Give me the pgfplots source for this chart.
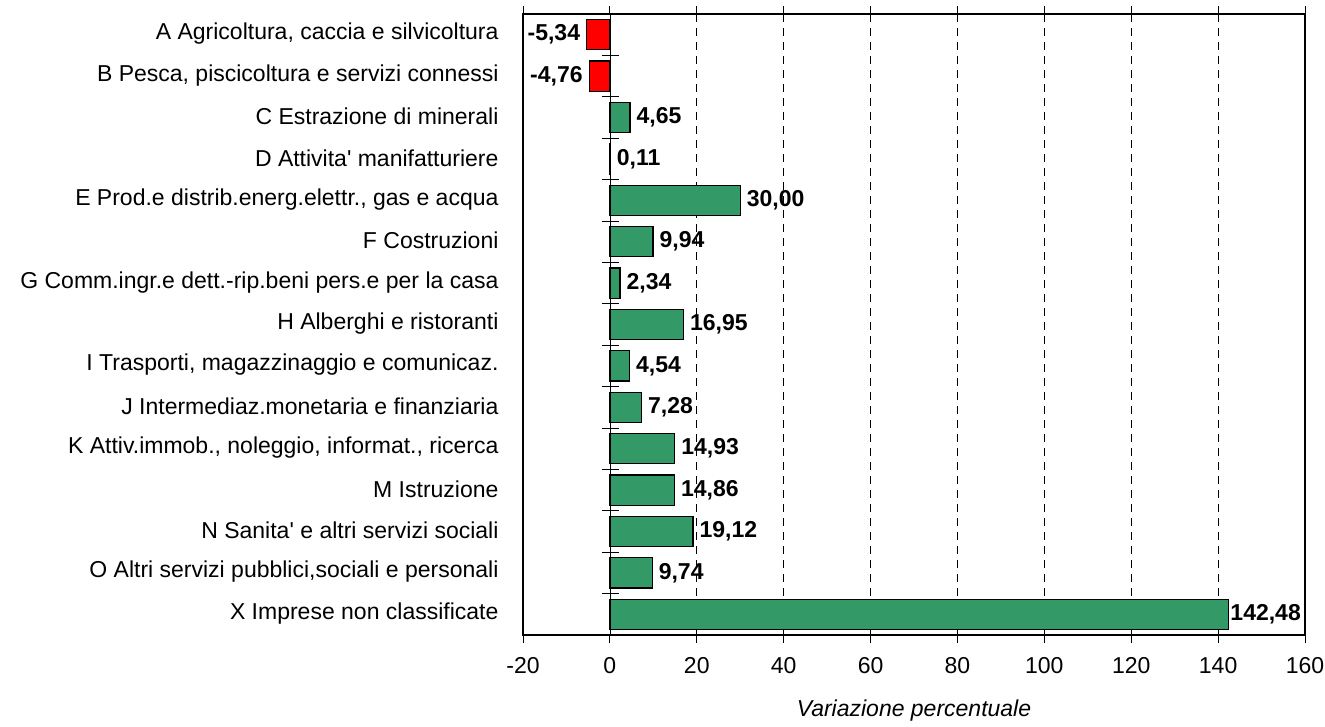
\documentclass[border=0pt]{standalone}
\usepackage{fontspec}
\setmainfont{Liberation Sans}
\usepackage{pgfplots}
\pgfplotsset{compat=1.18}
\definecolor{barred}{HTML}{FF0000}
\definecolor{bargreen}{HTML}{339966}

\begin{document}
\begin{tikzpicture}
\begin{axis}[
    name=ax,
    scale only axis,
    width=782pt, height=621pt,
    xbar, bar width=0.73, bar shift=0pt,
    y dir=reverse,
    xmin=-20, xmax=160,
    ymin=0.5, ymax=15.5,
    xtick={-20,0,...,160},
    ytick={1,...,15},
    yticklabels={
        {A Agricoltura, caccia e silvicoltura},
        {B Pesca, piscicoltura e servizi connessi},
        {C Estrazione di minerali},
        {D Attivita\textquotesingle\ manifatturiere},
        {E Prod.e distrib.energ.elettr., gas e acqua},
        {F Costruzioni},
        {G Comm.ingr.e dett.-rip.beni pers.e per la casa},
        {H Alberghi e ristoranti},
        {I Trasporti, magazzinaggio e comunicaz.},
        {J Intermediaz.monetaria e finanziaria},
        {K Attiv.immob., noleggio, informat., ricerca},
        {M Istruzione},
        {N Sanita\textquotesingle\ e altri servizi sociali},
        {O Altri servizi pubblici,sociali e personali},
        {X Imprese non classificate}},
    ytick style={draw=none},
    xtick style={black, line width=0.8pt},
    tick align=outside,
    major tick length=8pt,
    axis line style={black, line width=1.2pt},
    xmajorgrids=true,
    grid style={black, line width=0.6pt, dash pattern=on 8pt off 6pt},
    tick label style={font=\fontsize{23}{25}\selectfont},
    /pgf/number format/assume math mode=true,
    yticklabel style={xshift=-13pt, yshift=1pt},
    xticklabel style={yshift=-11pt},
    xlabel={\itshape Variazione percentuale},
    xlabel style={font=\fontsize{23}{25}\selectfont, yshift=-19pt},
    nodes near coords={\pgfmathprintnumber[fixed, fixed zerofill, precision=2, use comma]{\pgfplotspointmeta}},
    nodes near coords align={horizontal},
    every node near coord/.append style={font=\bfseries\fontsize{23}{25}\selectfont, inner sep=6pt},
]
\addplot[fill=barred, draw=black, line width=1.2pt] coordinates {
    (-5.34,1) (-4.76,2)
};
\addplot[fill=bargreen, draw=black, line width=1.2pt] coordinates {
    (4.65,3) (0.11,4) (30.00,5) (9.94,6) (2.34,7) (16.95,8) (4.54,9)
    (7.28,10) (14.93,11) (14.86,12) (19.12,13) (9.74,14)
};
\addplot[fill=bargreen, draw=black, line width=1.2pt,
    every node near coord/.append style={inner xsep=1pt}] coordinates {
    (142.48,15)
};
\draw[black, line width=0.7pt] (axis cs:0,0.5) -- (axis cs:0,15.5);
\pgfplotsinvokeforeach{1.5,2.5,...,14.5}{
    \draw[black, line width=0.8pt] (axis cs:-1.9,#1) -- (axis cs:2,#1);
}
\end{axis}
\pgfresetboundingbox
\path ([shift={(-523pt,-92pt)}]ax.south west) rectangle ([shift={(20pt,14pt)}]ax.north east);
\end{tikzpicture}
\end{document}
